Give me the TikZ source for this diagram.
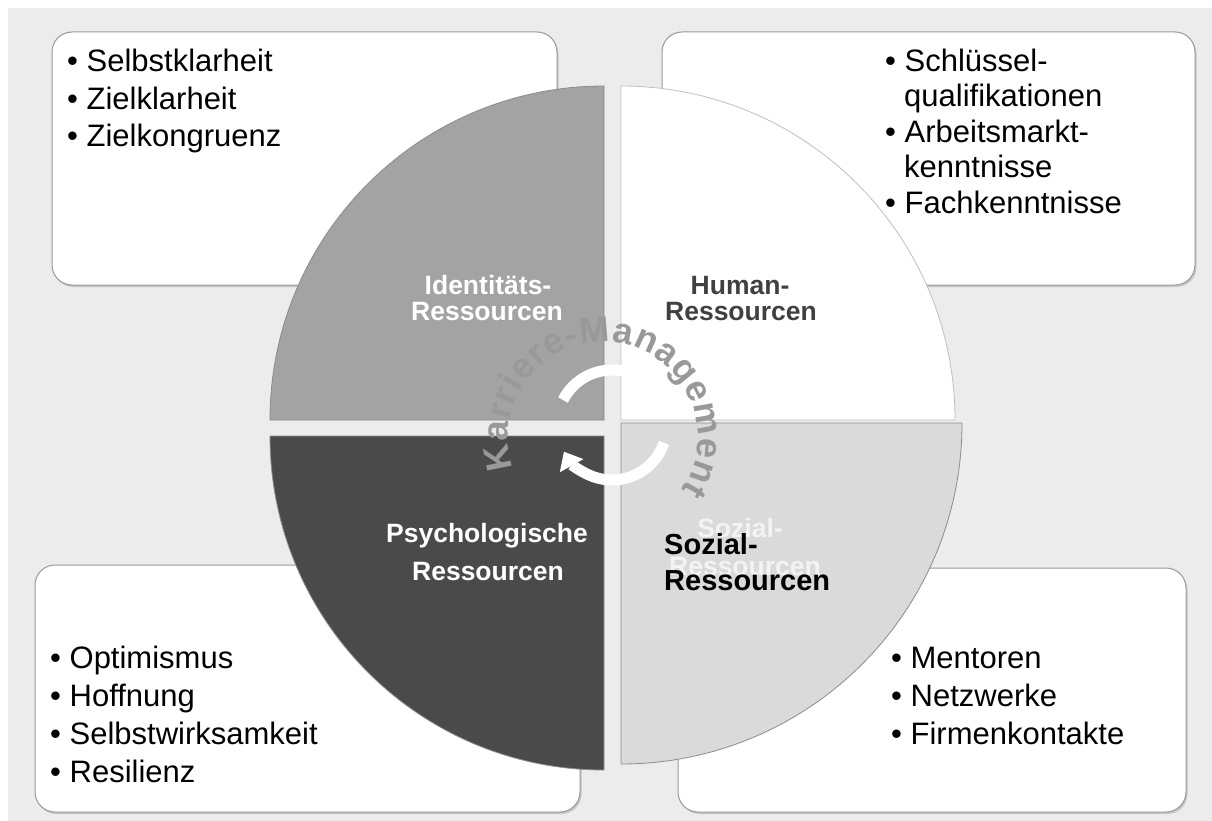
\documentclass[tikz,border=0pt]{standalone}
\usepackage{fontspec}
\setmainfont{Liberation Sans}
\usetikzlibrary{arrows.meta,decorations.text,shadows}

\newcommand\listfont{\fontsize{31}{37}\selectfont}
\newcommand\quadfont{\fontsize{26.5}{31}\selectfont\bfseries}
\newcommand\sozfont{\fontsize{29}{35}\selectfont\bfseries}
\newcommand\curvefont{\fontsize{36}{42}\selectfont\bfseries}

\definecolor{bggray}{gray}{0.925}
\definecolor{idgray}{gray}{0.64}
\definecolor{psygray}{gray}{0.29}
\definecolor{sozgray}{gray}{0.855}
\definecolor{humtext}{gray}{0.25}

\begin{document}
\begin{tikzpicture}[x=1pt, y=-1pt,
    box/.style={fill=white, draw=black!40, line width=1pt, rounded corners=20pt,
      drop shadow={shadow xshift=1.5pt, shadow yshift=-2pt, opacity=.35}},
    item/.style={anchor=base west, inner sep=0pt, font=\listfont},
    quad/.style={anchor=base, inner sep=0pt, font=\quadfont},
    slice/.style={draw=black!45, line width=.8pt}]
    			\useasboundingbox (0,0) rectangle (1212,821);
    			\fill[white] (0,0) rectangle (1212,821);
    			\fill[bggray] (8,8) rectangle (1212,821);

    			%Boxes
    			\draw[box] (52,32) rectangle (557,285);
    			\draw[box] (662,32) rectangle (1195,285);
    			\draw[box] (35,565) rectangle (580,812);
    			\draw[box] (678,568) rectangle (1186,812);

    			%Box texts
    			\foreach \y/\txt [count=\i] in {72/Selbstklarheit, 110/Zielklarheit, 147/Zielkongruenz}
      			\node[item] (idt\i) at (67,\y) {• \txt};
    			\foreach \x/\y/\txt [count=\i] in {885/72/• Schlüssel-, 904/107/qualifikationen,
      			885/143/• Arbeitsmarkt-, 904/178/kenntnisse, 885/214/• Fachkenntnisse}
      			\node[item] (hum\i) at (\x,\y) {\txt};
    			\foreach \y/\txt [count=\i] in {668/Optimismus, 706/Hoffnung, 744/Selbstwirksamkeit, 782/Resilienz}
      			\node[item] (psy\i) at (50,\y) {• \txt};
    			\foreach \y/\txt [count=\i] in {668/Mentoren, 706/Netzwerke, 744/Firmenkontakte}
      			\node[item] (soz\i) at (891,\y) {• \txt};

    			%Quarters
    			\fill[idgray, slice] (604,420) -- ++(-334,0) arc[start angle=180, end angle=270, radius=334] -- cycle;
    			\fill[white, slice, draw=black!25] (621,420) -- ++(0,-334) arc[start angle=270, end angle=360, radius=334] -- cycle;
    			\fill[sozgray, slice] (621,423) -- ++(341,0) arc[start angle=0, end angle=90, radius=341] -- cycle;
    			\fill[psygray, slice] (604,436) -- ++(0,334) arc[start angle=90, end angle=180, radius=334] -- cycle;

    			%Quarter labels
    			\node[quad, text=white] (idl1) at (488,294) {Identitäts-};
    			\node[quad, text=white] (idl2) at (487,320) {Ressourcen};
    			\node[quad, text=humtext] (huml1) at (740,294) {Human-};
    			\node[quad, text=humtext] (huml2) at (741,320) {Ressourcen};
    			\node[quad, text=white] (psyl1) at (487,542) {Psychologische};
    			\node[quad, text=white] (psyl2) at (488,580) {Ressourcen};
    			\node[quad, text=white, opacity=.7] (sozl1) at (740,537) {Sozial-};
    			\node[quad, text=white, opacity=.7] (sozl2) at (745,575) {Ressourcen};
    			\node[anchor=base west, inner sep=0pt, font=\sozfont] (sozb1) at (664,554) {Sozial-};
    			\node[anchor=base west, inner sep=0pt, font=\sozfont] (sozb2) at (664,590) {Ressourcen};

    			%Cycle arrows
    			\draw[white, line width=11pt, -{Triangle[width=26pt, length=16pt]}]
      			(612,425) ++(-153:55) arc[start angle=-153, end angle=-27, radius=55];
    			\draw[white, line width=11pt, -{Triangle[width=26pt, length=16pt]}]
      			(612,425) ++(19:55) arc[start angle=19, end angle=151, radius=55];

    			%Curved title
    			\path[font=\curvefont, decoration={text along path, text={|\curvefont|Karriere-Management},
      			text align={fit to path}, text color=black!40}, decorate]
      			(603,437) ++(-199:95) arc[start angle=-199, end angle=34, radius=95];
\end{tikzpicture}
\end{document}
